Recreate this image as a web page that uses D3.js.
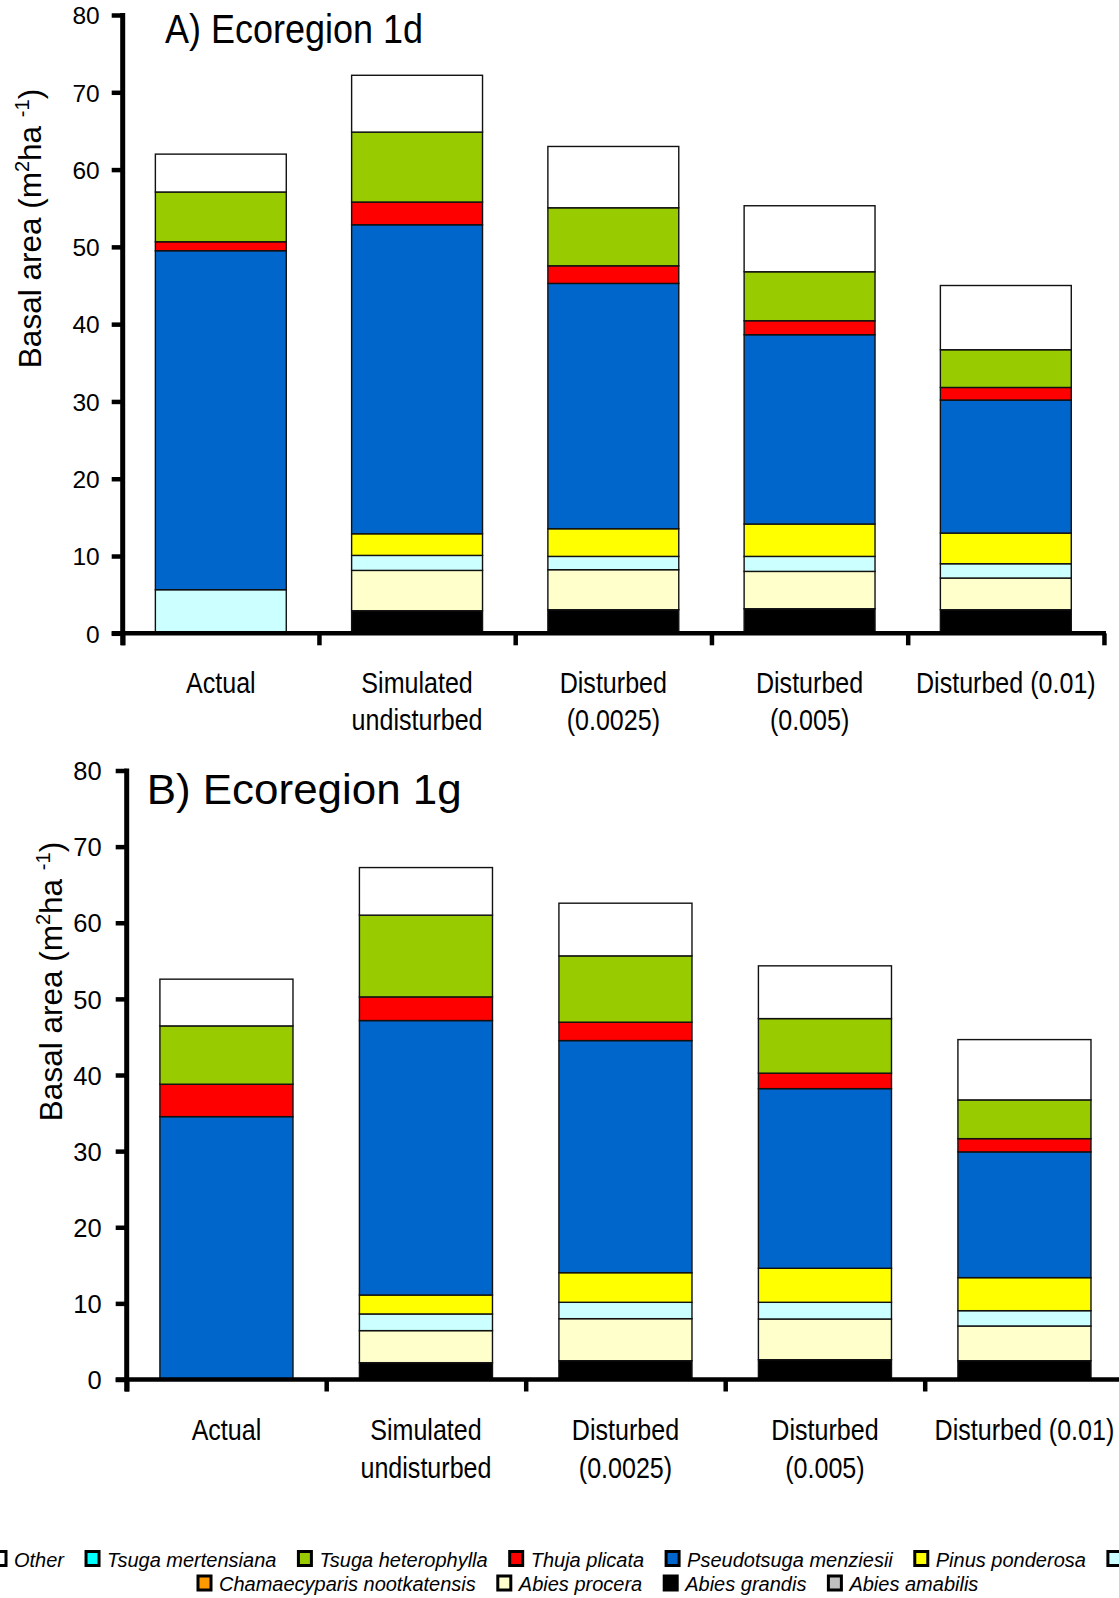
<!DOCTYPE html>
<html>
<head>
<meta charset="utf-8">
<script src="https://cdn.jsdelivr.net/npm/d3@7"></script>
<style>
  html, body { margin: 0; padding: 0; background: #fff; }
  svg { display: block; }
  text { font-family: "Liberation Sans", Arial, sans-serif; fill: #000; }
</style>
</head>
<body>
<svg id="chart" width="1119" height="1598"></svg>
<script>
// ---------------- DATA ----------------
const categories = ["Actual", "Simulated undisturbed", "Disturbed (0.0025)", "Disturbed (0.005)", "Disturbed (0.01)"];
const categoryLines = [["Actual"], ["Simulated", "undisturbed"], ["Disturbed", "(0.0025)"], ["Disturbed", "(0.005)"], ["Disturbed (0.01)"]];
const yTicks = [0, 10, 20, 30, 40, 50, 60, 70, 80];

// stacking order, bottom to top
const species = ["Abies grandis", "Abies amabilis", "Abies procera", "Chamaecyparis nootkatensis",
  "Picea sitchensis", "Pinus ponderosa", "Pseudotsuga menziesii", "Thuja plicata",
  "Tsuga heterophylla", "Tsuga mertensiana", "Other"];
const speciesColors = ["#000000", "#C0C0C0", "#FFFFCC", "#FF9900",
  "#CCFFFF", "#FFFF00", "#0066CC", "#FF0000",
  "#99CC00", "#00FFFF", "#FFFFFF"];
const legendRow1 = ["Other", "Tsuga mertensiana", "Tsuga heterophylla", "Thuja plicata",
  "Pseudotsuga menziesii", "Pinus ponderosa", "Picea sitchensis"];
const legendRow2 = ["Chamaecyparis nootkatensis", "Abies procera", "Abies grandis", "Abies amabilis"];

// Panel A) Ecoregion 1d  (values per category, m2/ha)
const abiesGrandisA   = [0.00, 2.92, 3.05, 3.18, 3.05];
const abiesAmabilisA  = [0, 0, 0, 0, 0];
const abiesProceraA   = [0.00, 5.22, 5.18, 4.83, 4.10];
const chamaecyparisA  = [0, 0, 0, 0, 0];
const piceaA          = [5.64, 1.94, 1.72, 1.94, 1.85];
const pinusA          = [0.00, 2.80, 3.58, 4.19, 3.97];
const pseudotsugaA    = [43.86, 39.98, 31.74, 24.49, 17.21];
const thujaA          = [1.16, 2.94, 2.28, 1.81, 1.63];
const tsugaHetA       = [6.44, 9.05, 7.51, 6.34, 4.88];
const tsugaMertA      = [0, 0, 0, 0, 0];
const otherA          = [4.90, 7.35, 7.93, 8.54, 8.31];

// Panel B) Ecoregion 1g
const abiesGrandisB   = [0.00, 2.21, 2.47, 2.60, 2.47];
const abiesAmabilisB  = [0, 0, 0, 0, 0];
const abiesProceraB   = [0.00, 4.21, 5.52, 5.35, 4.56];
const chamaecyparisB  = [0, 0, 0, 0, 0];
const piceaB          = [0.00, 2.19, 2.15, 2.19, 2.01];
const pinusB          = [0.00, 2.49, 3.89, 4.47, 4.34];
const pseudotsugaB    = [34.53, 36.05, 30.49, 23.60, 16.52];
const thujaB          = [4.26, 3.11, 2.42, 2.03, 1.74];
const tsugaHetB       = [7.66, 10.74, 8.71, 7.17, 5.09];
const tsugaMertB      = [0, 0, 0, 0, 0];
const otherB          = [6.14, 6.25, 6.92, 6.93, 7.92];

const seriesA = [abiesGrandisA, abiesAmabilisA, abiesProceraA, chamaecyparisA, piceaA, pinusA,
  pseudotsugaA, thujaA, tsugaHetA, tsugaMertA, otherA];
const seriesB = [abiesGrandisB, abiesAmabilisB, abiesProceraB, chamaecyparisB, piceaB, pinusB,
  pseudotsugaB, thujaB, tsugaHetB, tsugaMertB, otherB];

// ---------------- DRAW ----------------
const svg = d3.select("#chart");
const color = d3.scaleOrdinal().domain(species).range(speciesColors);
const NARROW = 0.85;

function buildRows(series) {
  return categories.map((c, i) => {
    const row = { category: c };
    species.forEach((s, k) => row[s] = series[k][i]);
    return row;
  });
}

function panel(cfg) {
  const g = svg.append("g");
  const y = d3.scaleLinear().domain([0, 80]).range([cfg.y0, cfg.y80]);
  const x = d3.scaleBand().domain(categories).range([cfg.x0, cfg.x0 + cfg.step * 5])
    .paddingInner(0.333).paddingOuter(0.1665);
  const xb = d3.scaleLinear().domain([0, 5]).range([cfg.x0, cfg.x0 + cfg.step * 5]);

  const stacked = d3.stack().keys(species)(buildRows(cfg.series));

  // bars
  const layers = g.append("g").selectAll("g").data(stacked).join("g")
    .attr("fill", d => color(d.key));
  layers.selectAll("rect")
    .data(d => d.filter(p => p[1] - p[0] > 0))
    .join("rect")
    .attr("x", d => x(d.data.category))
    .attr("width", x.bandwidth())
    .attr("y", d => y(d[1]))
    .attr("height", d => y(d[0]) - y(d[1]))
    .attr("stroke", "#111")
    .attr("stroke-width", 1.4);

  // y axis
  const ya = g.append("g").attr("transform", `translate(${cfg.x0},0)`)
    .call(d3.axisLeft(y).tickValues(yTicks).tickSize(11).tickSizeOuter(0).tickPadding(10));
  ya.select(".domain").remove();
  ya.selectAll(".tick line").attr("stroke", "#000").attr("stroke-width", 4.5);
  ya.selectAll(".tick text").attr("font-size", cfg.tickFont)
    .attr("font-family", "Liberation Sans, Arial, sans-serif")
    .attr("dy", "0.36em").attr("x", -(11 + cfg.tickGap));

  // x axis (boundary ticks)
  const xa = g.append("g").attr("transform", `translate(0,${cfg.y0})`)
    .call(d3.axisBottom(xb).tickValues([0, 1, 2, 3, 4, 5]).tickSize(12).tickSizeOuter(0).tickFormat(""));
  xa.select(".domain").remove();
  xa.selectAll(".tick line").attr("stroke", "#000").attr("stroke-width", 4.5);

  // axis lines
  g.append("line").attr("x1", cfg.x0 - 11).attr("x2", cfg.x0 + cfg.step * 5 + 2)
    .attr("y1", cfg.y0).attr("y2", cfg.y0).attr("stroke", "#000").attr("stroke-width", 4.5);
  g.append("line").attr("x1", cfg.x0).attr("x2", cfg.x0)
    .attr("y1", y(80) - 2).attr("y2", cfg.y0 + 12).attr("stroke", "#000").attr("stroke-width", 5);

  // category labels
  categories.forEach((c, i) => {
    const cx = x(c) + x.bandwidth() / 2;
    categoryLines[i].forEach((line, j) => {
      g.append("text")
        .attr("transform", `translate(${cx},${cfg.labelBase + j * 37.5}) scale(${NARROW},1)`)
        .attr("text-anchor", "middle")
        .attr("font-size", 29.5)
        .text(line);
    });
  });

  // title
  g.append("text").attr("x", cfg.titleX).attr("y", cfg.titleY)
    .attr("font-size", cfg.titleSize)
    .attr("textLength", cfg.titleLen).attr("lengthAdjust", "spacingAndGlyphs")
    .text(cfg.title);

  // y axis label
  const lab = g.append("text")
    .attr("transform", `translate(${cfg.labelX},${cfg.labelY}) rotate(-90)`)
    .attr("text-anchor", "middle")
    .attr("font-size", 31.5);
  lab.append("tspan").text("Basal area (m");
  lab.append("tspan").attr("font-size", 20).attr("dy", -12).text("2");
  lab.append("tspan").attr("dy", 12).text("ha ");
  lab.append("tspan").attr("font-size", 20).attr("dy", -12).text("-1");
  lab.append("tspan").attr("dy", 12).text(")");
}

panel({
  series: seriesA, x0: 122.7, step: 196.25, y0: 633.3, y80: 15,
  tickFont: 24.5, tickGap: 12, labelBase: 692.5,
  title: "A) Ecoregion 1d", titleX: 165, titleY: 43, titleSize: 40, titleLen: 258,
  labelX: 41, labelY: 228.5
});
panel({
  series: seriesB, x0: 126.7, step: 199.5, y0: 1379.5, y80: 770.5,
  tickFont: 25.5, tickGap: 14, labelBase: 1440,
  title: "B) Ecoregion 1g", titleX: 146.7, titleY: 804, titleSize: 43, titleLen: 315,
  labelX: 62, labelY: 981.5
});

// ---------------- LEGEND ----------------
function legendRow(items, startX, baseY) {
  let cx = startX;
  const lg = svg.append("g");
  items.forEach(name => {
    lg.append("rect").attr("x", cx).attr("y", baseY - 15).attr("width", 13).attr("height", 14)
      .attr("fill", color(name)).attr("stroke", "#000").attr("stroke-width", 3);
    const t = lg.append("text").attr("x", cx + 21).attr("y", baseY)
      .attr("font-size", 20).attr("font-style", "italic").text(name);
    const w = t.node().getComputedTextLength();
    cx = cx + 21 + w + 22;
  });
}
legendRow(legendRow1, -7, 1566.5);
legendRow(legendRow2, 198, 1591);
</script>
</body>
</html>
